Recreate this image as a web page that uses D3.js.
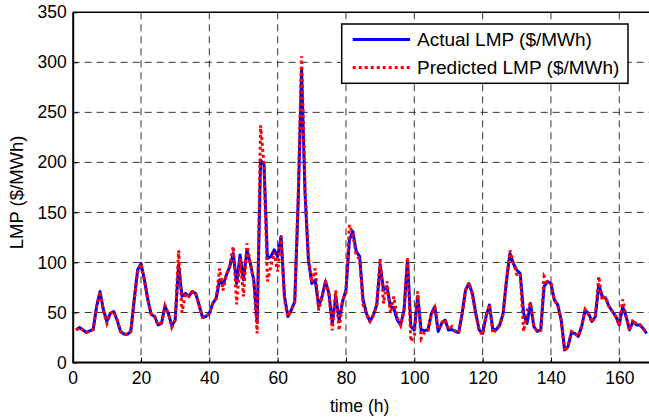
<html>

<head>
    <style>
        html,
        body {
            margin: 0;
            background-color: #ffffff;
            font-family: "Liberation Sans", Arial, sans-serif;
        }

        svg {
            display: block;
        }

        text {
            fill: #000000;
        }

        .grid line {
            stroke: #333333;
            stroke-width: 1;
            stroke-dasharray: 7, 5;
        }
    </style>
</head>

<body>
    <div id="chart"></div>
</body>

</html>

<script src="https://d3js.org/d3.v7.min.js"></script>

<script>
    // hours 1..168
    var hours = d3.range(1, 169);

    var actualLMP = [
        32.5, 35, 32.5, 30, 31.5, 33, 56, 71, 52.5, 41,
        49, 51, 42.5, 31, 28.5, 28, 31, 62.5, 92.5, 99,
        82.5, 62.5, 48, 46, 37.5, 39, 56, 49, 36.5, 42.5,
        97.5, 66, 69, 66, 71, 69, 57.5, 45, 46, 49,
        59, 64, 82.5, 77.5, 87.5, 96, 109, 79, 107.5, 82.5,
        112.5, 99, 82.5, 40, 202.5, 197.5, 104, 106, 112.5, 106,
        126, 66, 46, 52.5, 61, 160, 292, 170, 102.5, 79,
        82.5, 56, 66, 81, 69, 39, 66, 42.5, 61, 72.5,
        122.5, 131, 111, 106, 62.5, 49, 41, 47.5, 57.5, 97.5,
        72.5, 76, 56, 54.5, 42.5, 37.5, 52.5, 102.5, 36, 32.5,
        66, 32.5, 32, 32.5, 49, 56, 31, 39, 42.5, 32.5,
        33, 31, 30, 49, 72.5, 79, 69, 49, 32.5, 29,
        46, 57.5, 33, 33, 37.5, 49, 82.5, 109, 99, 92.5,
        89, 49, 39, 59, 36, 31, 32.5, 76, 81, 79,
        62.5, 57.5, 42.5, 12.5, 16, 30, 29, 26, 36, 52.5,
        49, 41, 46, 77.5, 66, 64.5, 56, 51, 46, 37.5,
        56, 46, 32.5, 41, 37.5, 37.5, 34, 29
    ];

    var predictedLMP = [
        32.5, 35, 32.5, 30, 31.5, 33, 56, 71, 51, 39,
        49, 51, 42.5, 31, 28.5, 28, 31, 62.5, 90, 99,
        82.5, 62.5, 48, 46, 37.5, 40, 57, 49, 35, 42.5,
        112, 50, 69, 66, 71, 69, 57.5, 45, 46, 49,
        59, 64, 94, 72, 88, 97, 116, 58, 104, 66,
        119, 99, 82, 29, 237, 198, 81, 96, 110, 91,
        126, 62, 46, 52.5, 61, 165, 306, 175, 105, 80,
        94, 52, 66, 80, 69, 32, 72, 32, 63, 70,
        137.5, 128, 107, 103, 58, 48, 41, 47, 57, 104,
        59, 81, 49, 66, 45, 37, 52, 105, 21, 27,
        71, 24, 30, 32, 48, 55, 33, 40, 43, 33,
        36, 31, 30, 48, 72, 80, 68, 48, 32, 27.5,
        46, 58, 29, 33, 37, 49, 82, 112, 100, 88,
        89, 31, 52, 60, 36, 31, 32, 86, 80, 79,
        62, 57, 42, 11, 16, 31, 29, 26, 37, 53,
        48, 40, 46, 86, 62, 66, 56, 51, 46, 37,
        63, 46, 32, 43, 38, 38, 34, 29
    ];

    var xTicks = [0, 20, 40, 60, 80, 100, 120, 140, 160];
    var yTicks = [0, 50, 100, 150, 200, 250, 300, 350];
    var legendLabels = ["Actual LMP ($/MWh)", "Predicted LMP ($/MWh)"];

    // establishing variables
    var width = 649,
        height = 419,
        plotLeft = 72.7,
        plotRight = 646.6,
        plotTop = 12.3,
        plotBottom = 362.5;

    var svg = d3.select("div#chart").append("svg")
        .attr("width", width)
        .attr("height", height);

    // scaling
    var xscale = d3.scaleLinear()
        .domain([0, 168])
        .range([plotLeft, plotRight]);

    var yscale = d3.scaleLinear()
        .domain([0, 350])
        .range([plotBottom, plotTop]);

    // grid lines
    var grid = svg.append("g").attr("class", "grid");
    grid.selectAll(".vgrid")
        .data(xTicks.slice(1))
        .enter().append("line")
        .attr("x1", function (d) { return xscale(d) })
        .attr("x2", function (d) { return xscale(d) })
        .attr("y1", plotTop)
        .attr("y2", plotBottom);
    grid.selectAll(".hgrid")
        .data(yTicks.slice(1, -1))
        .enter().append("line")
        .attr("x1", plotLeft)
        .attr("x2", width)
        .attr("y1", function (d) { return yscale(d) })
        .attr("y2", function (d) { return yscale(d) });

    // Add X axis
    var x_axis = d3.axisBottom(xscale)
        .tickValues(xTicks)
        .tickSizeInner(-5)
        .tickSizeOuter(0)
        .tickPadding(9);
    var gx = svg.append("g")
        .attr("transform", "translate(0," + plotBottom + ")")
        .call(x_axis);
    gx.select(".domain").attr("stroke-width", 2).attr("d", "M" + plotLeft + ",0H" + width);
    gx.selectAll("text")
        .style("font-size", "17.5px")
        .style("font-family", "Liberation Sans, Arial, sans-serif");

    // Add Y axis
    var y_axis = d3.axisLeft(yscale)
        .tickValues(yTicks)
        .tickSizeInner(-5)
        .tickSizeOuter(0)
        .tickPadding(6);
    var gy = svg.append("g")
        .attr("transform", "translate(" + plotLeft + ",0)")
        .call(y_axis);
    gy.select(".domain").attr("stroke-width", 2);
    gy.selectAll("text")
        .style("font-size", "17.5px")
        .style("font-family", "Liberation Sans, Arial, sans-serif");

    // top border
    svg.append("line")
        .attr("x1", plotLeft)
        .attr("x2", width)
        .attr("y1", plotTop)
        .attr("y2", plotTop)
        .attr("stroke", "#000")
        .attr("stroke-width", 1.5);

    // lines
    var line = d3.line()
        .x(function (d, i) { return xscale(hours[i]) })
        .y(function (d) { return yscale(d) });

    svg.append("path")
        .datum(actualLMP)
        .attr("fill", "none")
        .attr("stroke", "#0000ff")
        .attr("stroke-width", 3)
        .attr("stroke-linejoin", "round")
        .attr("d", line);

    svg.append("path")
        .datum(predictedLMP)
        .attr("fill", "none")
        .attr("stroke", "#ff0000")
        .attr("stroke-width", 3)
        .attr("stroke-dasharray", "3,3")
        .attr("d", line);

    // Add X axis label
    svg.append("text")
        .attr("text-anchor", "middle")
        .attr("x", (plotLeft + plotRight) / 2)
        .attr("y", 412)
        .style("font-size", "17.5px")
        .text("time (h)");

    // Add Y axis label
    svg.append("text")
        .attr("text-anchor", "middle")
        .attr("transform", "translate(23," + ((plotTop + plotBottom) / 2 + 5) + ") rotate(-90)")
        .style("font-size", "18.5px")
        .text("LMP ($/MWh)");

    // legend
    var legend = svg.append("g");
    legend.append("rect")
        .attr("x", 341.7)
        .attr("y", 24)
        .attr("width", 286.3)
        .attr("height", 59.3)
        .attr("fill", "#ffffff")
        .attr("stroke", "#000")
        .attr("stroke-width", 1.5);

    var rows = [
        { label: legendLabels[0], color: "#0000ff", dash: null, y: 39.5 },
        { label: legendLabels[1], color: "#ff0000", dash: "3,3", y: 67.5 }
    ];
    rows.forEach(function (r) {
        legend.append("line")
            .attr("x1", 352.7)
            .attr("x2", 410)
            .attr("y1", r.y)
            .attr("y2", r.y)
            .attr("stroke", r.color)
            .attr("stroke-width", 3)
            .attr("stroke-dasharray", r.dash);
        legend.append("text")
            .attr("x", 417)
            .attr("y", r.y + 6.8)
            .style("font-size", "19px")
            .text(r.label);
    });
</script>
